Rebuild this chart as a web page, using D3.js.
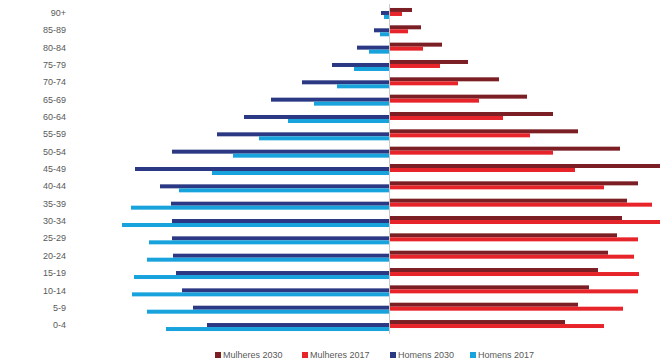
<!DOCTYPE html>
<html>
<head>
<meta charset="utf-8">
<script src="https://cdn.jsdelivr.net/npm/d3@7"></script>
<style>
  body { margin: 0; background: #fff; }
  svg { display: block; }
</style>
</head>
<body>
<div id="chart"></div>
<script>
// age groups, bottom to top
const ageGroups = ["0-4", "5-9", "10-14", "15-19", "20-24", "25-29", "30-34", "35-39", "40-44",
    "45-49", "50-54", "55-59", "60-64", "65-69", "70-74", "75-79", "80-84", "85-89", "90+"];

// values (same order as ageGroups)
const homens2030 = [183, 197, 208, 214, 217, 218, 218, 219, 230, 255, 218, 173, 146, 119, 88, 58, 33, 16, 9];
const homens2017 = [224, 243, 258, 256, 243, 241, 268, 259, 211, 178, 157, 131, 102, 76, 53, 36, 21, 10, 6];
const mulheres2030 = [175, 188, 199, 208, 218, 227, 232, 237, 248, 272, 230, 188, 163, 137, 109, 78, 52, 31, 22];
const mulheres2017 = [214, 233, 248, 249, 244, 248, 272, 262, 214, 185, 163, 140, 113, 89, 68, 50, 33, 18, 12];

const seriesNames = ["Mulheres 2030", "Mulheres 2017", "Homens 2030", "Homens 2017"];
const seriesColors = ["#7b1f24", "#e8242b", "#2b3884", "#18a3dd"];

const width = 660, height = 363;
const centerX = 390;
const barH = 4;
const womenShift = -3;

const svg = d3.select("#chart").append("svg")
    .attr("width", width)
    .attr("height", height);

const y = d3.scaleBand()
    .domain(ageGroups.slice().reverse())
    .range([6.3, 335.7]);

const x = d3.scaleLinear()
    .domain([0, 300])
    .range([0, 300]);

const rows = ageGroups.map((age, i) => ({
    age: age,
    h30: homens2030[i], h17: homens2017[i],
    m30: mulheres2030[i], m17: mulheres2017[i]
}));

const mid = d => y(d.age) + y.bandwidth() / 2;

// homens (left)
svg.append("g").selectAll("rect")
    .data(rows).join("rect")
    .attr("x", d => centerX - x(d.h30))
    .attr("y", d => mid(d) - barH)
    .attr("width", d => x(d.h30))
    .attr("height", barH)
    .attr("fill", seriesColors[2]);

svg.append("g").selectAll("rect")
    .data(rows).join("rect")
    .attr("x", d => centerX - x(d.h17))
    .attr("y", d => mid(d))
    .attr("width", d => x(d.h17))
    .attr("height", barH)
    .attr("fill", seriesColors[3]);

// mulheres (right)
svg.append("g").selectAll("rect")
    .data(rows).join("rect")
    .attr("x", centerX)
    .attr("y", d => mid(d) - barH + womenShift)
    .attr("width", d => x(d.m30))
    .attr("height", barH)
    .attr("fill", seriesColors[0]);

svg.append("g").selectAll("rect")
    .data(rows).join("rect")
    .attr("x", centerX)
    .attr("y", d => mid(d) + womenShift)
    .attr("width", d => x(d.m17))
    .attr("height", barH)
    .attr("fill", seriesColors[1]);

// center axis line
svg.append("line")
    .attr("x1", centerX - 0.5).attr("x2", centerX - 0.5)
    .attr("y1", 4).attr("y2", 334)
    .attr("stroke", "#c8c8c8")
    .attr("stroke-width", 1);

// age labels
svg.append("g").selectAll("text")
    .data(ageGroups).join("text")
    .attr("x", 66)
    .attr("y", d => y(d) + y.bandwidth() / 2 - 2)
    .attr("dy", "0.35em")
    .attr("text-anchor", "end")
    .style("font-family", "'Liberation Sans Narrow', 'Liberation Sans', Arial, sans-serif")
    .style("font-size", "9px")
    .attr("fill", "#595959")
    .text(d => d);

// legend
const legendX = [218, 305, 393, 473];
const legend = svg.append("g").selectAll("g")
    .data(seriesNames).join("g")
    .attr("transform", (d, i) => `translate(${legendX[i]}, 355)`);

legend.append("rect")
    .attr("x", -3).attr("y", -3)
    .attr("width", 6).attr("height", 6)
    .attr("fill", (d, i) => seriesColors[i]);

legend.append("text")
    .attr("x", 5)
    .attr("dy", "0.35em")
    .style("font-family", "'Liberation Sans', Arial, sans-serif")
    .style("font-size", "9px")
    .attr("fill", "#595959")
    .text(d => d);
</script>
</body>
</html>
